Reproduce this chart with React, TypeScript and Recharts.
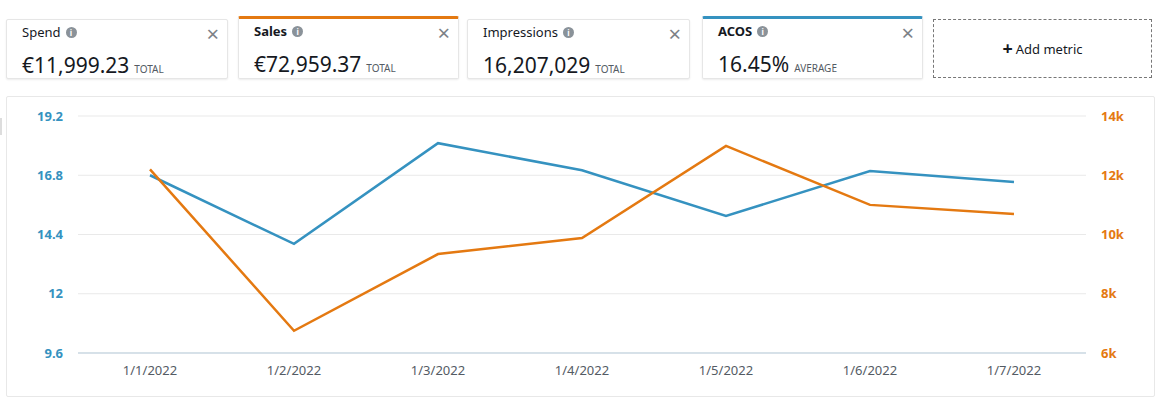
import React from 'react';
import { LineChart, Line, XAxis, YAxis, CartesianGrid } from 'recharts';

const dates = ['1/1/2022', '1/2/2022', '1/3/2022', '1/4/2022', '1/5/2022', '1/6/2022', '1/7/2022'];
const acos = [16.8, 14.02, 18.1, 17.0, 15.15, 16.97, 16.53];
const sales = [12200, 6750, 9340, 9880, 12990, 11000, 10690];

const acosTicks = [9.6, 12, 14.4, 16.8, 19.2];
const salesTicks = [6000, 8000, 10000, 12000, 14000];

const BLUE = '#3592c0';
const ORANGE = '#e47911';
const FONT = '"Noto Sans", "Open Sans", Arial, sans-serif';

const data = dates.map((d, i) => ({ date: d, acos: acos[i], sales: sales[i] }));

type Card = { title: string; value: string; unit: string; left: number; width: number; color?: string };

const cards: Card[] = [
  { title: 'Spend', value: '€11,999.23', unit: 'TOTAL', left: 6, width: 222 },
  { title: 'Sales', value: '€72,959.37', unit: 'TOTAL', left: 238, width: 221, color: ORANGE },
  { title: 'Impressions', value: '16,207,029', unit: 'TOTAL', left: 467, width: 223 },
  { title: 'ACOS', value: '16.45%', unit: 'AVERAGE', left: 702, width: 221, color: BLUE },
];

function InfoIcon() {
  return (
    <span
      style={{
        display: 'inline-block', width: 11, height: 11, borderRadius: '50%', background: '#8a9299',
        color: '#fff', fontSize: 8, fontWeight: 700, lineHeight: '11px', textAlign: 'center',
        marginLeft: 5, verticalAlign: 'middle', position: 'relative', top: -1,
      }}
    >
      i
    </span>
  );
}

function MetricCard({ c }: { c: Card }) {
  return (
    <div
      style={{
        position: 'absolute', left: c.left, top: c.color ? 16 : 19, width: c.width,
        height: c.color ? 63 : 60, background: '#fff', boxSizing: 'border-box',
        border: '1px solid #e6e6e6', borderTop: c.color ? `3px solid ${c.color}` : '1px solid #e6e6e6',
        borderRadius: 2, boxShadow: '0 1px 2px rgba(0,0,0,0.08)',
      }}
    >
      <div style={{ position: 'absolute', left: 15, top: 3, fontSize: 13, color: '#16191f', fontWeight: c.color ? 700 : 400 }}>
        {c.title}
        <InfoIcon />
      </div>
      <div style={{ position: 'absolute', right: 8, top: -2, fontSize: 22, color: '#7d8287' }}>×</div>
      <div style={{ position: 'absolute', left: 15, top: 31, whiteSpace: 'nowrap', color: '#16191f' }}>
        <span style={{ fontSize: 21 }}>{c.value}</span>
        <span style={{ fontSize: 10, color: '#545b64', marginLeft: 5 }}>{c.unit}</span>
      </div>
    </div>
  );
}

export default function App() {
  return (
    <div style={{ position: 'absolute', left: 0, top: 0, width: 1169, height: 398, background: '#fff', fontFamily: FONT }}>
      {cards.map((c) => (
        <MetricCard key={c.title} c={c} />
      ))}
      <div
        style={{
          position: 'absolute', left: 933, top: 19, width: 219, height: 59, boxSizing: 'border-box',
          border: '1px dashed #777', display: 'flex', alignItems: 'center', justifyContent: 'center',
          fontSize: 13, color: '#16191f',
        }}
      >
        <span style={{ fontSize: 18, fontWeight: 700, marginRight: 3, position: 'relative', top: -1 }}>+</span>Add metric
      </div>
      <div style={{ position: 'absolute', left: 0, top: 118, width: 2, height: 17, background: '#ddd' }} />
      <div
        style={{
          position: 'absolute', left: 6, top: 96, width: 1149, height: 301, boxSizing: 'border-box',
          border: '1px solid #e8e8e8', borderRadius: 2,
        }}
      >
        <LineChart width={1147} height={299} data={data} margin={{ top: 19, right: 12, bottom: 13, left: 11 }}>
          <CartesianGrid vertical={false} stroke="#e9e9e9" yAxisId="left" />
          <XAxis
            dataKey="date"
            scale="band"
            tickLine={false}
            axisLine={{ stroke: '#b9cedd' }}
            height={30}
            tickMargin={7}
            tick={{ fill: '#545b64', fontSize: 13, fontFamily: FONT }}
          />
          <YAxis
            yAxisId="left"
            orientation="left"
            width={60}
            domain={[9.6, 19.2]}
            ticks={acosTicks}
            tickLine={false}
            axisLine={false}
            tickMargin={9}
            tick={{ fill: BLUE, fontSize: 13, fontWeight: 700, fontFamily: FONT }}
          />
          <YAxis
            yAxisId="right"
            orientation="right"
            width={56}
            domain={[6000, 14000]}
            ticks={salesTicks}
            tickLine={false}
            axisLine={false}
            tickMargin={9}
            tickFormatter={(v: number) => `${v / 1000}k`}
            tick={{ fill: ORANGE, fontSize: 13, fontWeight: 700, fontFamily: FONT, textAnchor: 'start' }}
          />
          <Line yAxisId="left" dataKey="acos" stroke={BLUE} strokeWidth={2.5} dot={false} isAnimationActive={false} />
          <Line yAxisId="right" dataKey="sales" stroke={ORANGE} strokeWidth={2.5} dot={false} isAnimationActive={false} />
        </LineChart>
      </div>
    </div>
  );
}
